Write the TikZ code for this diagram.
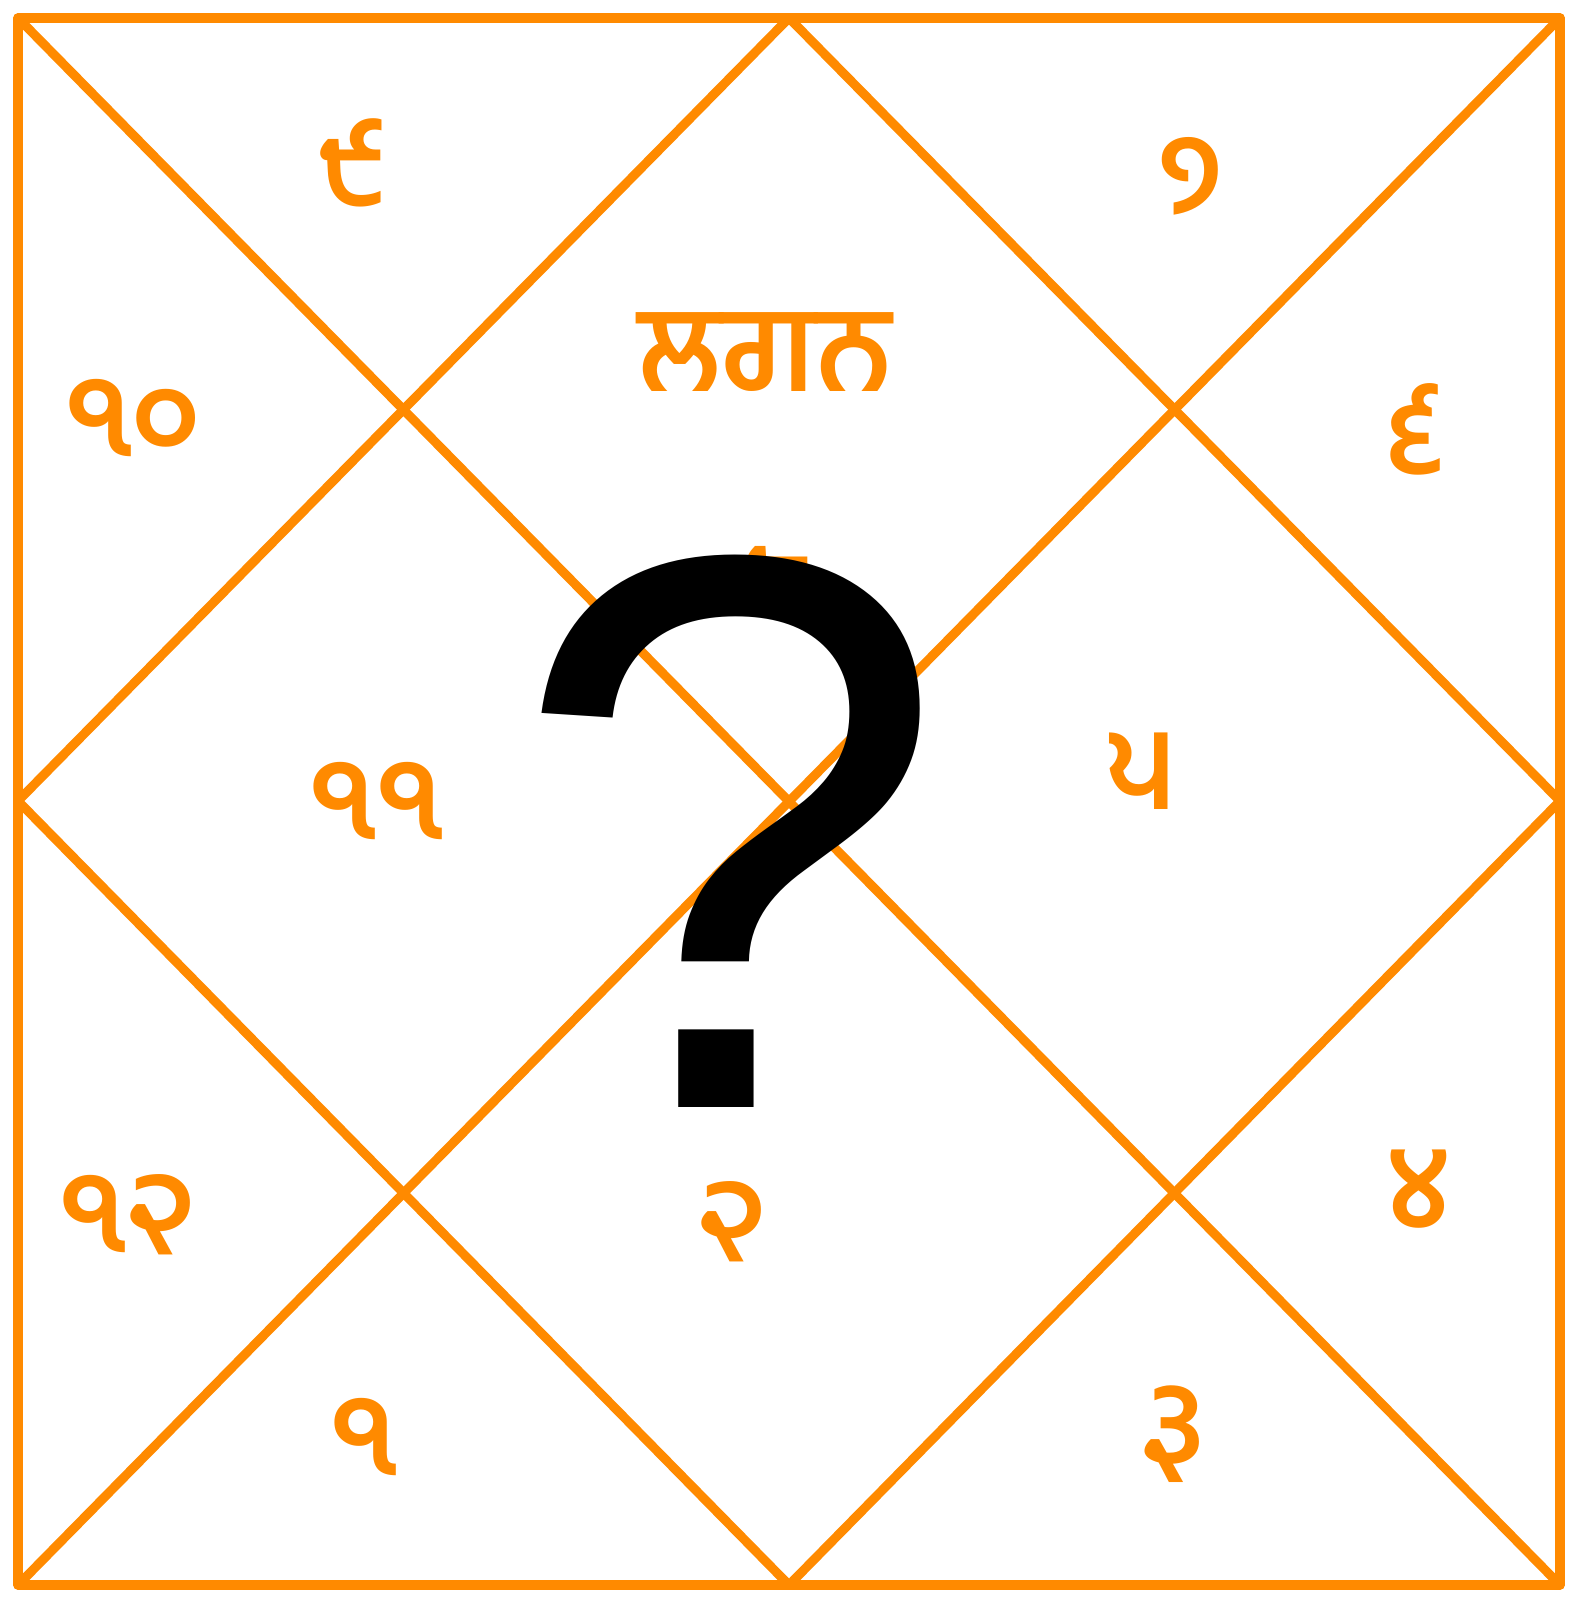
\documentclass[tikz,border=0pt]{standalone}
\usepackage{fontspec}
\newfontfamily\gur[Script=Gurmukhi]{Hind Jalandhar}
\newfontfamily\qfont{Liberation Sans}
\definecolor{chartorange}{HTML}{FF8A00}
\begin{document}
\begin{tikzpicture}[x=0.01cm,y=-0.01cm,
  chartline/.style={draw=chartorange,line width=2.6pt,line cap=round,line join=round},
  numlabel/.style={text=chartorange,font=\gur\bfseries\fontsize{33}{35}\selectfont,inner sep=0pt},
  lagnalabel/.style={text=chartorange,font=\gur\bfseries\fontsize{34}{36}\selectfont,inner sep=0pt},
  qlabel/.style={text=black,font=\qfont\fontsize{225}{230}\selectfont,inner sep=0pt}]
\useasboundingbox[fill=white] (0,0) rectangle (1575,1600);
\coordinate (TL) at (18,18);
\coordinate (TR) at (1560,18);
\coordinate (BR) at (1560,1585);
\coordinate (BL) at (18,1585);
\coordinate (TM) at (789,18);
\coordinate (RM) at (1560,801);
\coordinate (BM) at (789,1585);
\coordinate (LM) at (18,801);
\draw[chartline] (TL) -- (TR) -- (BR) -- (BL) -- cycle;
\draw[chartline] (TL) -- (BR);
\draw[chartline] (TR) -- (BL);
\draw[chartline] (TM) -- (RM) -- (BM) -- (LM) -- cycle;
\node[lagnalabel] (lagna) at (765,352) {ਲਗਨ};
\node[numlabel] (h1) at (778,580) {੮};
\node[numlabel] (h2) at (352,163) {੯};
\node[numlabel] (h3) at (133,418) {੧੦};
\node[numlabel] (h4) at (376,801) {੧੧};
\node[numlabel] (h5) at (128,1215) {੧੨};
\node[numlabel] (h6) at (364,1437) {੧};
\node[numlabel] (h7) at (733,1222) {੨};
\node[numlabel] (h8) at (1174,1434) {੩};
\node[numlabel] (h9) at (1419,1189) {੪};
\node[numlabel] (h10) at (1141,771) {੫};
\node[numlabel] (h11) at (1414,429) {੬};
\node[numlabel] (h12) at (1192,176) {੭};
\node[qlabel,anchor=base] (q) at (730,1107) {?};
\end{tikzpicture}
\end{document}
